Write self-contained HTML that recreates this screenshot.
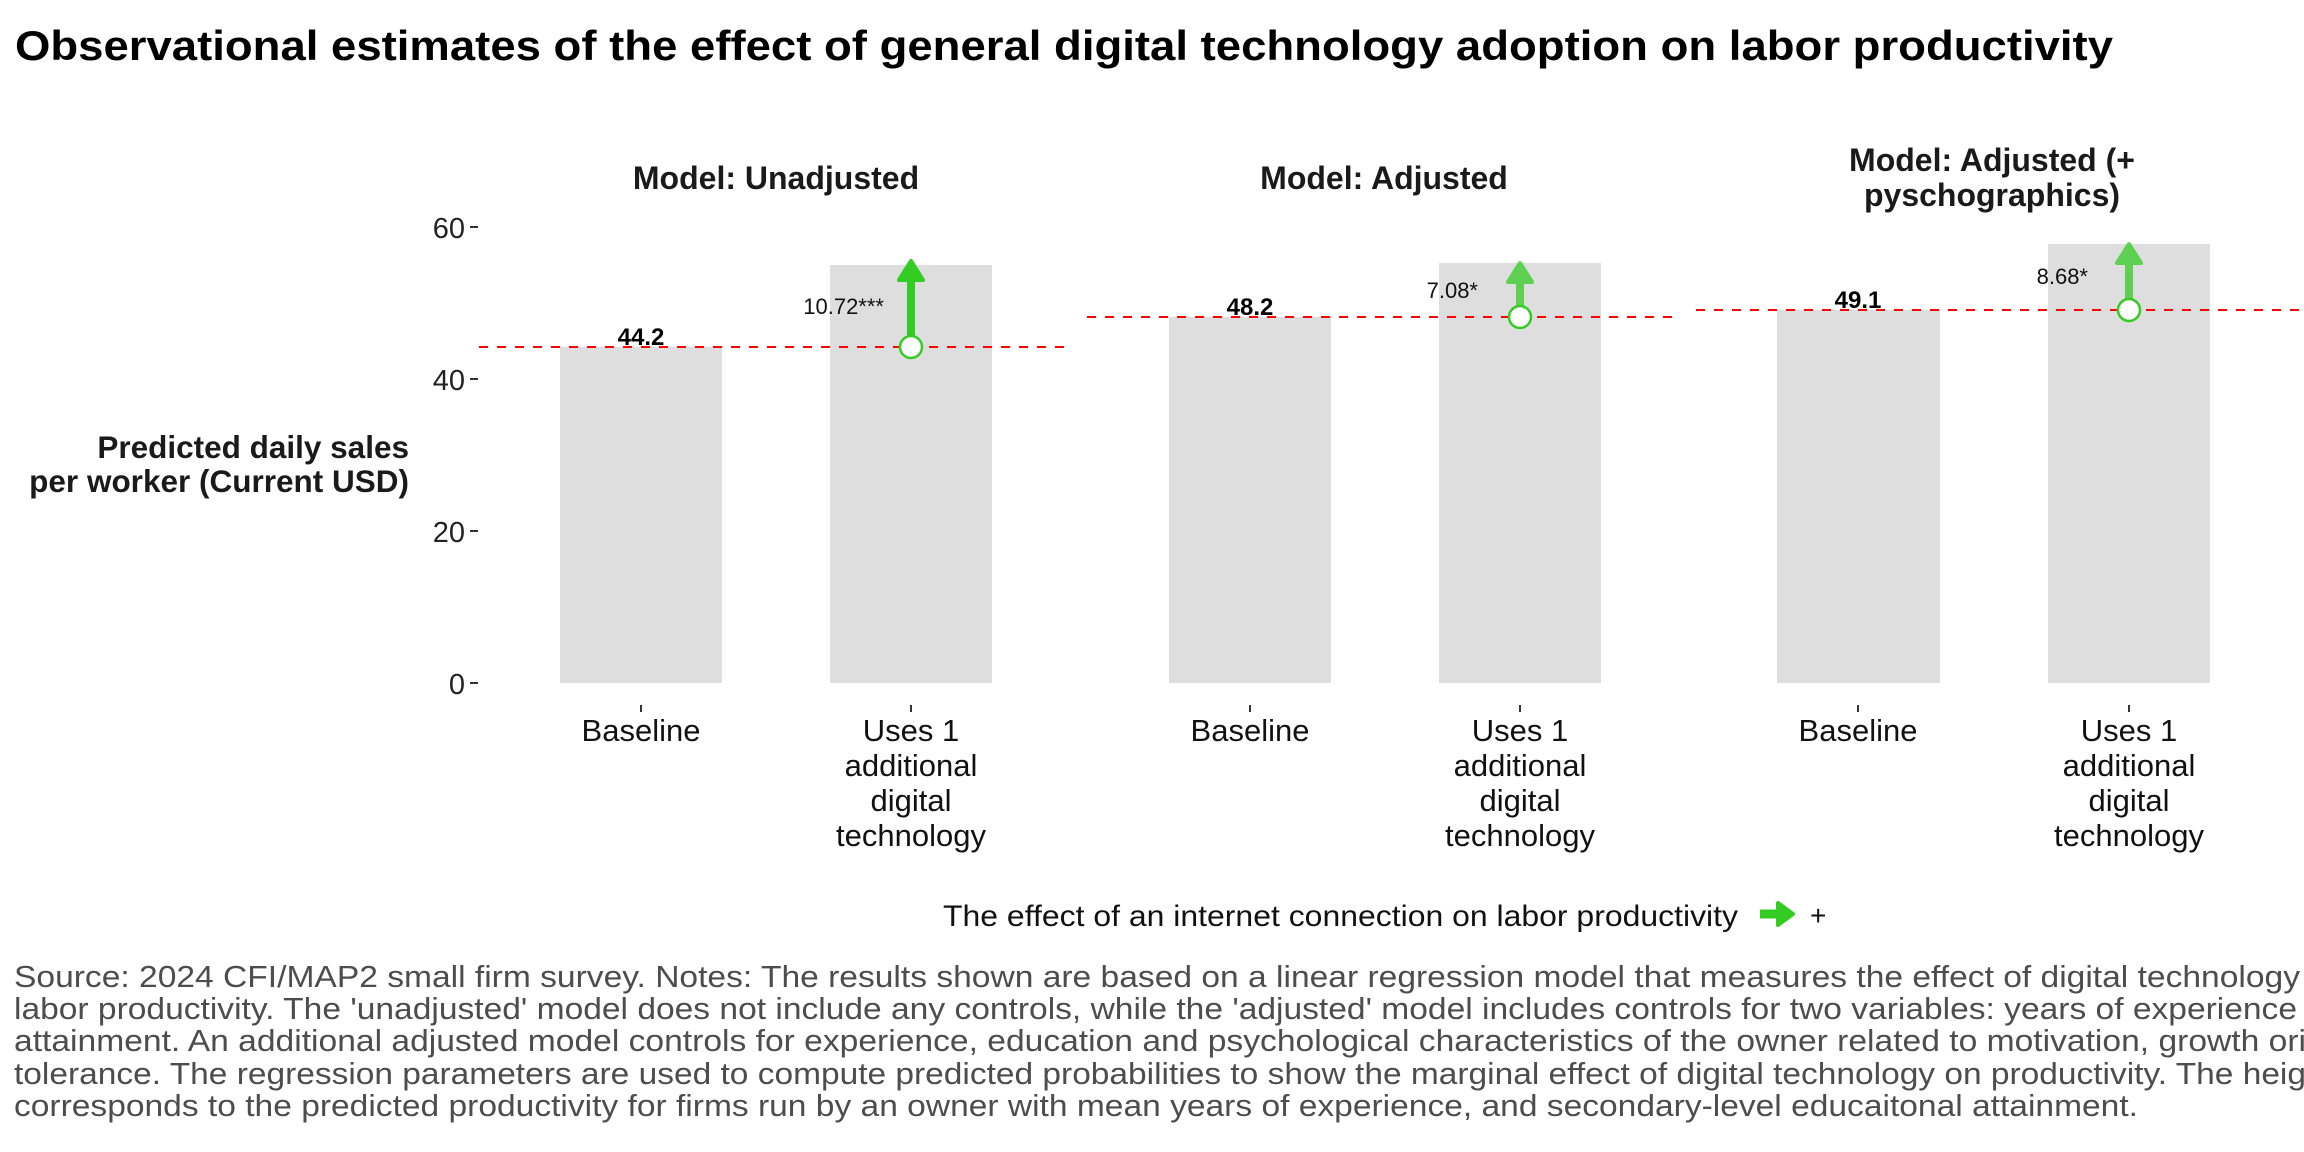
<!DOCTYPE html>
<html><head><meta charset="utf-8"><style>
html,body{margin:0;padding:0;background:#fff;}
svg{display:block;font-family:"Liberation Sans",Arial,sans-serif;}
</style></head><body>
<svg width="2304" height="1152" viewBox="0 0 2304 1152" xmlns="http://www.w3.org/2000/svg">
<text x="15" y="60" font-size="42" font-weight="bold" fill="#000" textLength="2098" lengthAdjust="spacingAndGlyphs">Observational estimates of the effect of general digital technology adoption on labor productivity</text>

<g font-weight="bold" font-size="32" fill="#1a1a1a" text-anchor="middle">
<text x="776" y="189">Model: Unadjusted</text>
<text x="1384" y="189">Model: Adjusted</text>
<text x="1992" y="171">Model: Adjusted (+</text>
<text x="1992" y="206">pyschographics)</text>
</g>

<g font-size="29" fill="#222" text-anchor="end">
<text x="465" y="238">60</text>
<text x="465" y="390">40</text>
<text x="465" y="542">20</text>
<text x="465" y="694">0</text>
</g>
<g stroke="#333" stroke-width="2">
<line x1="470" y1="227" x2="478" y2="227"/>
<line x1="470" y1="379" x2="478" y2="379"/>
<line x1="470" y1="531" x2="478" y2="531"/>
<line x1="470" y1="683" x2="478" y2="683"/>
</g>
<g font-size="31.5" font-weight="bold" fill="#1a1a1a" text-anchor="end">
<text x="409" y="458">Predicted daily sales</text>
<text x="409" y="492">per worker (Current USD)</text>
</g>

<g fill="#dedede">
<rect x="560" y="347" width="162" height="336"/>
<rect x="830" y="265" width="162" height="418"/>
<rect x="1169" y="317" width="162" height="366"/>
<rect x="1439" y="263" width="162" height="420"/>
<rect x="1777" y="310" width="163" height="373"/>
<rect x="2048" y="244" width="162" height="439"/>
</g>

<g stroke="#ff0000" stroke-width="2" stroke-dasharray="9,9">
<line x1="479" y1="347" x2="1065" y2="347"/>
<line x1="1087" y1="317" x2="1675" y2="317"/>
<line x1="1696" y1="310" x2="2304" y2="310"/>
</g>

<g font-size="24" font-weight="bold" fill="#000" text-anchor="middle">
<text x="641" y="345">44.2</text>
<text x="1250" y="315">48.2</text>
<text x="1858" y="308">49.1</text>
</g>

<g>
<line x1="911" y1="347" x2="911" y2="278" stroke="#33cc22" stroke-width="8"/>
<polygon points="911,261 899,280 923,280" fill="#33cc22" stroke="#33cc22" stroke-width="4" stroke-linejoin="round"/>
<circle cx="911" cy="347" r="11" fill="#fff" stroke="#33cc22" stroke-width="2.5"/>
</g>
<g opacity="0.75">
<line x1="1520" y1="317" x2="1520" y2="280" stroke="#33cc22" stroke-width="8"/>
<polygon points="1520,263 1508,282 1532,282" fill="#33cc22" stroke="#33cc22" stroke-width="4" stroke-linejoin="round"/>
</g>
<circle cx="1520" cy="317" r="11" fill="#fff" stroke="#33cc22" stroke-width="2.5"/>
<g opacity="0.75">
<line x1="2129" y1="310" x2="2129" y2="261" stroke="#33cc22" stroke-width="8"/>
<polygon points="2129,244 2117,263 2141,263" fill="#33cc22" stroke="#33cc22" stroke-width="4" stroke-linejoin="round"/>
</g>
<circle cx="2129" cy="310" r="11" fill="#fff" stroke="#33cc22" stroke-width="2.5"/>

<g font-size="22" fill="#111" text-anchor="end">
<text x="884" y="314">10.72***</text>
<text x="1478" y="298">7.08*</text>
<text x="2088" y="284">8.68*</text>
</g>

<g stroke="#333" stroke-width="2">
<line x1="641" y1="705" x2="641" y2="712"/>
<line x1="911" y1="705" x2="911" y2="712"/>
<line x1="1250" y1="705" x2="1250" y2="712"/>
<line x1="1520" y1="705" x2="1520" y2="712"/>
<line x1="1858" y1="705" x2="1858" y2="712"/>
<line x1="2129" y1="705" x2="2129" y2="712"/>
</g>
<g font-size="31" fill="#111" text-anchor="middle">
<text x="641" y="741">Baseline</text>
<text x="1250" y="741">Baseline</text>
<text x="1858" y="741">Baseline</text>
<text x="911" y="741">Uses 1</text><text x="911" y="776">additional</text><text x="911" y="811">digital</text><text x="911" y="846">technology</text>
<text x="1520" y="741">Uses 1</text><text x="1520" y="776">additional</text><text x="1520" y="811">digital</text><text x="1520" y="846">technology</text>
<text x="2129" y="741">Uses 1</text><text x="2129" y="776">additional</text><text x="2129" y="811">digital</text><text x="2129" y="846">technology</text>
</g>

<text x="943" y="926" font-size="30" fill="#111" textLength="795" lengthAdjust="spacingAndGlyphs">The effect of an internet connection on labor productivity</text>
<line x1="1760" y1="914" x2="1780" y2="914" stroke="#33cc22" stroke-width="9"/>
<polygon points="1793,914 1778,903 1778,925" fill="#33cc22" stroke="#33cc22" stroke-width="4" stroke-linejoin="round"/>
<text x="1810" y="925" font-size="28" fill="#111">+</text>

<g font-size="31" fill="#4d4d4d" lengthAdjust="spacingAndGlyphs">
<text x="14" y="987" textLength="2286" lengthAdjust="spacingAndGlyphs">Source: 2024 CFI/MAP2 small firm survey. Notes: The results shown are based on a linear regression model that measures the effect of digital technology</text>
<text x="14" y="1019" textLength="2283" lengthAdjust="spacingAndGlyphs">labor productivity. The 'unadjusted' model does not include any controls, while the 'adjusted' model includes controls for two variables: years of experience</text>
<text x="14" y="1051" textLength="2292" lengthAdjust="spacingAndGlyphs">attainment. An additional adjusted model controls for experience, education and psychological characteristics of the owner related to motivation, growth ori</text>
<text x="14" y="1084" textLength="2292" lengthAdjust="spacingAndGlyphs">tolerance. The regression parameters are used to compute predicted probabilities to show the marginal effect of digital technology on productivity. The heig</text>
<text x="14" y="1116" textLength="2124" lengthAdjust="spacingAndGlyphs">corresponds to the predicted productivity for firms run by an owner with mean years of experience, and secondary-level educaitonal attainment.</text>
</g>
</svg>
</body></html>
